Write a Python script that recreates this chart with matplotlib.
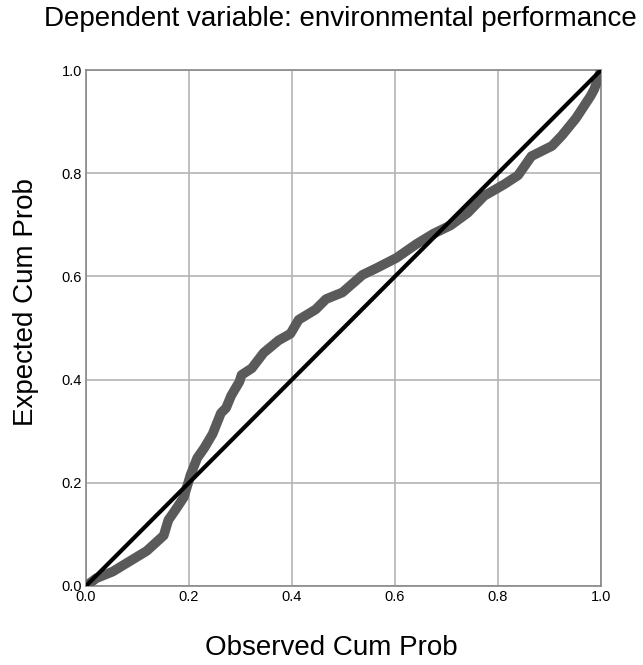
#-----------------------------------------------------
#--------Normal P-P plot of regression residual-------
#-----------------------------------------------------

#Importing Necessary libraries
import matplotlib
matplotlib.use('Agg')
import matplotlib.pyplot as plt

plt.rcParams['font.family'] = ['Liberation Sans', 'DejaVu Sans']

#Observed cumulative probability
observed_cum_prob = [0.0, 0.02, 0.052, 0.085, 0.118, 0.151, 0.16, 0.165, 0.174, 0.19,
                     0.203, 0.216, 0.23, 0.246, 0.262, 0.272, 0.282, 0.298, 0.302,
                     0.322, 0.345, 0.374, 0.397, 0.413, 0.446, 0.466, 0.498, 0.537,
                     0.564, 0.603, 0.642, 0.675, 0.708, 0.741, 0.773, 0.813, 0.839,
                     0.865, 0.905, 0.924, 0.951, 0.98, 0.987, 1.0]

#Expected cumulative probability
expected_cum_prob = [0.0, 0.015, 0.028, 0.048, 0.068, 0.098, 0.128, 0.135, 0.148, 0.172,
                     0.215, 0.248, 0.268, 0.295, 0.335, 0.345, 0.369, 0.396, 0.409,
                     0.422, 0.452, 0.476, 0.489, 0.516, 0.536, 0.556, 0.569, 0.603,
                     0.616, 0.636, 0.663, 0.683, 0.699, 0.723, 0.756, 0.779, 0.796,
                     0.833, 0.853, 0.873, 0.906, 0.95, 0.963, 1.0]

tick_values = [0.0, 0.2, 0.4, 0.6, 0.8, 1.0]
tick_labels = ['0.0', '0.2', '0.4', '0.6', '0.8', '1.0']

#-------------------Figure----------------------------
fig = plt.figure(figsize=(6.43, 6.65), dpi=100)
ax = fig.add_axes([0.1337, 0.1188, 0.8010, 0.7759])

#Points drawn thick so they merge into one band
ax.plot(observed_cum_prob, expected_cum_prob, color='#5a5a5a', linewidth=7,
        solid_capstyle='round', solid_joinstyle='round', zorder=3)

#Reference diagonal
ax.plot([0, 1], [0, 1], color='black', linewidth=3, zorder=4)

ax.set_xlim(0, 1)
ax.set_ylim(0, 1)
ax.set_xticks(tick_values)
ax.set_xticklabels(tick_labels)
ax.set_yticks(tick_values)
ax.set_yticklabels(tick_labels)
ax.tick_params(length=0, labelsize=10.5, pad=3)
ax.grid(True, color='#b4b4b4', linewidth=1.2)
ax.set_axisbelow(True)
for spine in ax.spines.values():
    spine.set_color('#888888')
    spine.set_linewidth(1.2)

# Axis labels
fig.text(0.515, 0.026, 'Observed Cum Prob', ha='center', va='center', fontsize=20)
fig.text(0.040, 0.546, 'Expected Cum Prob', ha='center', va='center',
         rotation=90, fontsize=20)

fig.text(0.530, 0.972, 'Dependent variable: environmental performance',
         ha='center', va='center', fontsize=20)

fig.savefig('out.png', dpi=100)
